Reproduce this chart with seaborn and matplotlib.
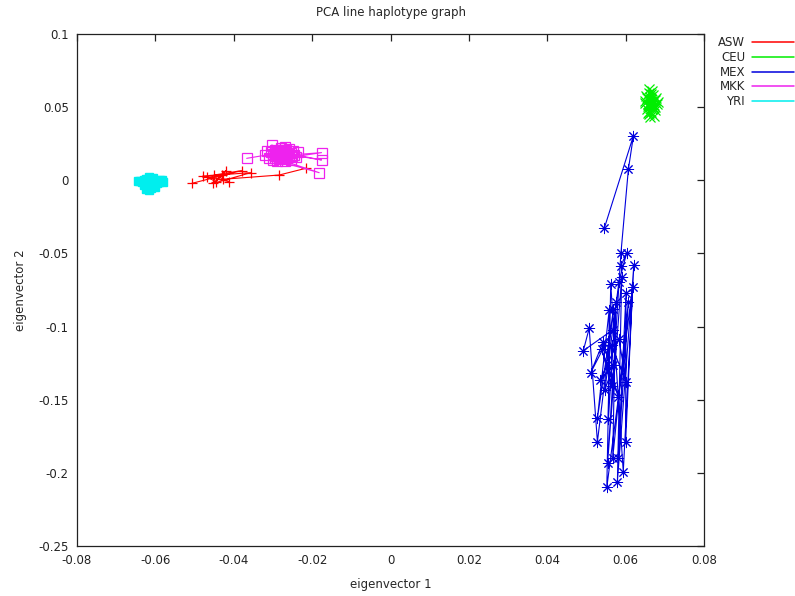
import matplotlib
matplotlib.use("Agg")
import matplotlib.pyplot as plt
from matplotlib.lines import Line2D
import seaborn as sns
import pandas as pd

# --- data (eigenvector 1, eigenvector 2) ---
asw_x = [-0.0507, -0.0380, -0.0450, -0.0411, -0.0479, -0.0357, -0.0452,
         -0.0420, -0.0445, -0.0467, -0.0431, -0.0427, -0.0284, -0.0216]
asw_y = [-0.0021, 0.0066, 0.0036, -0.0010, 0.0029, 0.0052, -0.0021,
         0.0066, -0.0010, 0.0020, 0.0036, 0.0007, 0.0036, 0.0082]

ceu_x = [0.0660, 0.0670, 0.0655, 0.0675, 0.0665, 0.0650, 0.0680, 0.0660,
         0.0670, 0.0655, 0.0675, 0.0665, 0.0660, 0.0672, 0.0658, 0.0668,
         0.0652, 0.0678, 0.0662, 0.0673, 0.0657, 0.0669, 0.0663, 0.0660,
         0.0683, 0.0649, 0.0664, 0.0671, 0.0656, 0.0667, 0.0661, 0.0676,
         0.0659, 0.0666]
ceu_y = [0.0600, 0.0580, 0.0560, 0.0550, 0.0540, 0.0530, 0.0520, 0.0510,
         0.0500, 0.0490, 0.0480, 0.0470, 0.0450, 0.0440, 0.0460, 0.0610,
         0.0575, 0.0565, 0.0525, 0.0515, 0.0505, 0.0495, 0.0430, 0.0625,
         0.0535, 0.0545, 0.0555, 0.0535, 0.0520, 0.0485, 0.0570, 0.0500,
         0.0465, 0.0590]

mex_x = [0.0546, 0.0620, 0.0607, 0.0588, 0.0554, 0.0590, 0.0579, 0.0621,
         0.0594, 0.0562, 0.0552, 0.0618, 0.0600, 0.0601, 0.0581, 0.0607,
         0.0567, 0.0575, 0.0556, 0.0558, 0.0528, 0.0569, 0.0528, 0.0507,
         0.0492, 0.0567, 0.0511, 0.0543, 0.0581, 0.0539, 0.0564, 0.0564,
         0.0601, 0.0583, 0.0535, 0.0569, 0.0547, 0.0583, 0.0603, 0.0588]
mex_y = [-0.0324, 0.0305, 0.0075, -0.0499, -0.1931, -0.0659, -0.2060, -0.0579,
         -0.1992, -0.0711, -0.2099, -0.0727, -0.1787, -0.0773, -0.1900, -0.0830,
         -0.1900, -0.0830, -0.1634, -0.0887, -0.1627, -0.0882, -0.1787, -0.1012,
         -0.1165, -0.1023, -0.1315, -0.1103, -0.1479, -0.1155, -0.1406, -0.1126,
         -0.1377, -0.1087, -0.1365, -0.1263, -0.1434, -0.0693, -0.0495, -0.0584]

mkk_x = [-0.0367, -0.0300, -0.0290, -0.0280, -0.0270, -0.0260, -0.0285,
         -0.0176, -0.0295, -0.0275, -0.0265, -0.0255, -0.0310, -0.0305,
         -0.0176, -0.0245, -0.0250, -0.0290, -0.0270, -0.0303, -0.0280,
         -0.0260, -0.0240, -0.0320, -0.0182, -0.0300, -0.0285, -0.0275,
         -0.0265, -0.0295, -0.0235, -0.0315, -0.0255, -0.0270, -0.0280,
         -0.0288, -0.0278, -0.0268, -0.0258, -0.0292, -0.0282, -0.0272,
         -0.0262, -0.0286, -0.0276, -0.0266, -0.0296, -0.0252, -0.0283,
         -0.0273, -0.0263, -0.0293, -0.0279, -0.0269]
mkk_y = [0.0150, 0.0180, 0.0200, 0.0160, 0.0190, 0.0170, 0.0145,
         0.0189, 0.0165, 0.0210, 0.0150, 0.0185, 0.0155, 0.0195,
         0.0139, 0.0175, 0.0200, 0.0130, 0.0135, 0.0241, 0.0220,
         0.0215, 0.0160, 0.0175, 0.0052, 0.0140, 0.0175, 0.0170,
         0.0180, 0.0210, 0.0190, 0.0200, 0.0140, 0.0225, 0.0190,
         0.0168, 0.0178, 0.0163, 0.0172, 0.0185, 0.0158, 0.0198,
         0.0188, 0.0192, 0.0155, 0.0205, 0.0150, 0.0165, 0.0182,
         0.0148, 0.0160, 0.0172, 0.0205, 0.0168]

yri_x = [-0.0640, -0.0630, -0.0620, -0.0610, -0.0600, -0.0590, -0.0582,
         -0.0635, -0.0625, -0.0615, -0.0605, -0.0620, -0.0610, -0.0600,
         -0.0625, -0.0615, -0.0605, -0.0595, -0.0630, -0.0612, -0.0618,
         -0.0608, -0.0588, -0.0644, -0.0580]
yri_y = [-0.0005, 0.0000, -0.0010, 0.0005, -0.0005, -0.0010, 0.0000,
         -0.0015, 0.0012, 0.0020, 0.0015, -0.0040, -0.0055, -0.0045,
         -0.0060, -0.0066, -0.0030, -0.0020, -0.0030, 0.0010, -0.0020,
         -0.0015, 0.0005, -0.0002, -0.0012]

populations = ["ASW", "CEU", "MEX", "MKK", "YRI"]
xs = [asw_x, ceu_x, mex_x, mkk_x, yri_x]
ys = [asw_y, ceu_y, mex_y, mkk_y, yri_y]

xticks = [-0.08, -0.06, -0.04, -0.02, 0, 0.02, 0.04, 0.06, 0.08]
xtick_labels = ["-0.08", "-0.06", "-0.04", "-0.02", "0", "0.02", "0.04", "0.06", "0.08"]
yticks = [0.1, 0.05, 0, -0.05, -0.1, -0.15, -0.2, -0.25]
ytick_labels = ["0.1", "0.05", "0", "-0.05", "-0.1", "-0.15", "-0.2", "-0.25"]

colors = {"ASW": "#ff0000", "CEU": "#00ee00", "MEX": "#0000dd", "MKK": "#ee22ee", "YRI": "#00eeee"}
marker_kws = {
    "ASW": dict(marker="+", markersize=7, markeredgewidth=0.9),
    "CEU": dict(marker="x", markersize=7, markeredgewidth=0.9),
    "MEX": dict(marker=(8, 2, 0), markersize=8, markeredgewidth=0.7),
    "MKK": dict(marker="s", markersize=7, markeredgewidth=0.9, markerfacecolor="none"),
    "YRI": dict(marker="s", markersize=6, markeredgewidth=1.0),
}

rows = []
for pop, px, py in zip(populations, xs, ys):
    for i, (a, b) in enumerate(zip(px, py)):
        rows.append({"pop": pop, "order": i, "ev1": a, "ev2": b})
df = pd.DataFrame(rows)

sns.set_style("white")
plt.rcParams["font.family"] = ["DejaVu Sans"]
plt.rcParams["font.size"] = 8.5

fig = plt.figure(figsize=(7.95, 5.96), dpi=100)
ax = fig.add_axes([77 / 795, 50 / 596, 627 / 795, 512 / 596])

for pop in populations:
    sub = df[df["pop"] == pop]
    kws = dict(marker_kws[pop])
    kws.setdefault("markerfacecolor", colors[pop])
    sns.lineplot(data=sub, x="ev1", y="ev2", sort=False, estimator=None,
                 color=colors[pop], linewidth=0.8, markeredgecolor=colors[pop],
                 ax=ax, **kws)

ax.set_xlim(-0.08, 0.08)
ax.set_ylim(-0.25, 0.1)
ax.set_xticks(xticks)
ax.set_xticklabels(xtick_labels)
ax.set_yticks(yticks)
ax.set_yticklabels(ytick_labels)
ax.tick_params(direction="in", length=5, width=0.9, top=True, right=True,
               labeltop=False, labelright=False, pad=6, labelsize=8.5, colors="#222222")
for s in ax.spines.values():
    s.set_color("#222222")
    s.set_linewidth(0.9)

ax.set_xlabel("eigenvector 1", fontsize=8.5, labelpad=8)
ax.set_ylabel("eigenvector 2", fontsize=8.5, labelpad=8)
ax.set_title("PCA line haplotype graph", fontsize=8.5, pad=13)

handles = [Line2D([], [], color=colors[p], linewidth=1.1) for p in populations]
ax.legend(handles, populations, loc="upper left", bbox_to_anchor=(1.015, 1.005),
          markerfirst=False, frameon=False, handlelength=3.5, handletextpad=0.6,
          labelspacing=0.15, borderaxespad=0.0, fontsize=8.5)

fig.savefig("out.png", dpi=100)
